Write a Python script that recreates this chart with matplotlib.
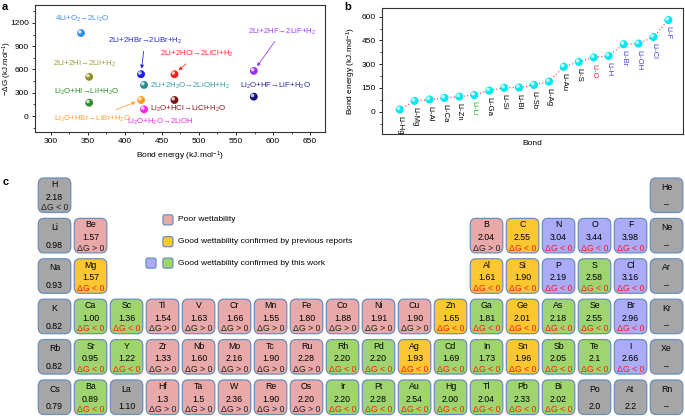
import matplotlib
matplotlib.use("Agg")
import matplotlib.pyplot as plt
from matplotlib.patches import FancyBboxPatch
from matplotlib import transforms
from matplotlib.ticker import MultipleLocator

plt.rcParams['font.family'] = ['Liberation Sans', 'DejaVu Sans']
plt.rcParams['mathtext.fontset'] = 'custom'
plt.rcParams['mathtext.rm'] = 'Liberation Sans'
plt.rcParams['mathtext.it'] = 'Liberation Sans:italic'
plt.rcParams['mathtext.bf'] = 'Liberation Sans:bold'
plt.rcParams['mathtext.default'] = 'regular'

# ---------------- Panel a data ----------------
rx_labels = ['4Li+O$_2$→2Li$_2$O', '2Li+2HI→2LiI+H$_2$', 'Li$_2$O+HI→LiI+H$_2$O',
             '2Li+2HBr→2LiBr+H$_2$', '2Li+2H$_2$O→2LiOH+H$_2$', 'Li$_2$O+HBr→LiBr+H$_2$O',
             'Li$_2$O+H$_2$O→2LiOH', '2Li+2HCl→2LiCl+H$_2$', 'Li$_2$O+HCl→LiCl+H$_2$O',
             '2Li+2HF→2LiF+H$_2$', 'Li$_2$O+HF→LiF+H$_2$O']
rx_bond = [341, 352, 352, 422, 426, 422, 426, 467, 467, 574, 574]
rx_dG = [1069, 505, 172, 539, 401, 207, 87, 539, 207, 582, 250]
rx_colors = ['#2b8ff5', '#8f8f1f', '#2e8b2e', '#1c1cf0', '#2a8a8a', '#ff9a1f',
             '#ff20f0', '#ff1a1a', '#7a1515', '#9b30f0', '#15157a']
rx_label_colors = ['#3a90f0', '#9a9a3a', '#2a8a2a', '#2a2adf', '#2f9d9d', '#ffa030',
                   '#f030e0', '#ff2a2a', '#8a1a1a', '#a040f0', '#2a2a9a']
rx_text_x = [342, 346, 349, 427, 488, 357, 448, 497, 486, 612, 603]
rx_text_y = [1250, 668, 306, 970, 388, -30, -73, 798, 90, 1090, 388]
rx_arrow = [False, False, False, True, False, True, False, True, False, True, False]

# ---------------- Panel b data ----------------
bonds = ['Li-Hg', 'Li-Mg', 'Li-Al', 'Li-Ca', 'Li-Zn', 'Li-Li', 'Li-Ga', 'Li-Si', 'Li-Bi',
         'Li-Sb', 'Li-Ag', 'Li-Au', 'Li-S', 'Li-O', 'Li-H', 'Li-Br', 'Li-OH', 'Li-Cl', 'Li-F']
bond_energy = [14, 68, 77, 87, 95, 105, 133, 151, 153, 169, 190, 284, 314, 343, 352,
               426, 430, 472, 579]
bond_label_colors = ['k'] * 5 + ['#22bb22'] + ['k'] * 7 + ['#ee3333'] + ['#4444dd'] * 5

# ---------------- Panel c data ----------------
symbols = ['H', 'He',
           'Li', 'Be', 'B', 'C', 'N', 'O', 'F', 'Ne',
           'Na', 'Mg', 'Al', 'Si', 'P', 'S', 'Cl', 'Ar',
           'K', 'Ca', 'Sc', 'Ti', 'V', 'Cr', 'Mn', 'Fe', 'Co', 'Ni', 'Cu', 'Zn', 'Ga', 'Ge',
           'As', 'Se', 'Br', 'Kr',
           'Rb', 'Sr', 'Y', 'Zr', 'Nb', 'Mo', 'Tc', 'Ru', 'Rh', 'Pd', 'Ag', 'Cd', 'In', 'Sn',
           'Sb', 'Te', 'I', 'Xe',
           'Cs', 'Ba', 'La', 'Hf', 'Ta', 'W', 'Re', 'Os', 'Ir', 'Pt', 'Au', 'Hg', 'Tl', 'Pb',
           'Bi', 'Po', 'At', 'Rn']
groups = [1, 18,
          1, 2, 13, 14, 15, 16, 17, 18,
          1, 2, 13, 14, 15, 16, 17, 18] + list(range(1, 19)) * 3
periods = [1, 1] + [2] * 8 + [3] * 8 + [4] * 18 + [5] * 18 + [6] * 18
values = ['2.18', '–',
          '0.98', '1.57', '2.04', '2.55', '3.04', '3.44', '3.98', '–',
          '0.93', '1.57', '1.61', '1.90', '2.19', '2.58', '3.16', '–',
          '0.82', '1.00', '1.36', '1.54', '1.63', '1.66', '1.55', '1.80', '1.88', '1.91',
          '1.90', '1.65', '1.81', '2.01', '2.18', '2.55', '2.96', '–',
          '0.82', '0.95', '1.22', '1.33', '1.60', '2.16', '1.90', '2.28', '2.20', '2.20',
          '1.93', '1.69', '1.73', '1.96', '2.05', '2.1', '2.66', '–',
          '0.79', '0.89', '1.10', '1.3', '1.5', '2.36', '1.90', '2.20', '2.20', '2.28',
          '2.54', '2.00', '2.04', '2.33', '2.02', '2.0', '2.2', '–']
# categories: n = none(gray), p = poor, y = previous, b = this work (blue), g = this work (green)
cats = ['n', 'n',
        'n', 'p', 'p', 'y', 'b', 'b', 'b', 'n',
        'n', 'y', 'y', 'y', 'b', 'g', 'b', 'n',
        'n', 'g', 'g', 'p', 'p', 'p', 'p', 'p', 'p', 'p', 'p', 'y', 'g', 'y', 'g', 'g', 'b', 'n',
        'n', 'g', 'g', 'p', 'p', 'p', 'p', 'p', 'g', 'g', 'y', 'g', 'g', 'y', 'g', 'g', 'b', 'n',
        'n', 'g', 'n', 'p', 'p', 'p', 'p', 'p', 'g', 'g', 'g', 'g', 'g', 'g', 'g', 'n', 'n', 'n']
dG = []
for s, c in zip(symbols, cats):
    if s == 'H':
        dG.append('lt_black')
    elif c == 'p':
        dG.append('gt')
    elif c in ('y', 'b', 'g'):
        dG.append('lt')
    else:
        dG.append('')

cat_colors = {'n': '#a6a6a6', 'p': '#e9a9a9', 'y': '#fdc82f', 'b': '#ababf7', 'g': '#9fd46e'}
legend_texts = ['Poor wettability', 'Good wettability confirmed by previous reports',
                'Good wettability confirmed by this work']

# ---------------- figure ----------------
fig = plt.figure(figsize=(6.85, 4.16), dpi=100)
W, H = 685.0, 416.0


def sphere(ax, x, y, color, s):
    ax.scatter(x, y, s=s, color=color, edgecolors='none', zorder=3)
    off = transforms.offset_copy(ax.transData, fig=fig, x=-0.9, y=0.9, units='points')
    ax.scatter(x, y, s=s * 0.22, color='white', alpha=0.75, edgecolors='none',
               zorder=4, transform=off)


# Panel a
axa = fig.add_axes([35 / W, 1 - 132 / H, 290 / W, 127 / H])
axa.set_xlim(279, 670)
axa.set_ylim(-205, 1430)
for i in range(len(rx_labels)):
    sphere(axa, rx_bond[i], rx_dG[i], rx_colors[i], 32)
    if rx_arrow[i]:
        axa.annotate(rx_labels[i], xy=(rx_bond[i], rx_dG[i]),
                     xytext=(rx_text_x[i], rx_text_y[i]),
                     ha='center', va='center', fontsize=5.7, color=rx_label_colors[i],
                     arrowprops=dict(arrowstyle='-|>', color=rx_label_colors[i], lw=0.6,
                                     mutation_scale=5, shrinkA=2, shrinkB=4), zorder=2)
    else:
        axa.text(rx_text_x[i], rx_text_y[i], rx_labels[i], ha='center', va='center',
                 fontsize=5.7, color=rx_label_colors[i])
axa.xaxis.set_major_locator(MultipleLocator(50))
axa.yaxis.set_major_locator(MultipleLocator(300))
axa.xaxis.set_minor_locator(MultipleLocator(25))
axa.yaxis.set_minor_locator(MultipleLocator(150))
axa.tick_params(which='major', direction='out', length=2.5, width=0.6, labelsize=6, pad=2)
axa.tick_params(which='minor', direction='out', length=1.5, width=0.5)
for sp in axa.spines.values():
    sp.set_linewidth(0.8)
    sp.set_color('#333333')
axa.set_xlabel('Bond energy (kJ.mol$^{-1}$)', fontsize=6, labelpad=3)
axa.set_ylabel('−ΔG (kJ.mol$^{-1}$)', fontsize=5.8)
axa.yaxis.set_label_coords(-0.074, 0.5)

# Panel b
axb = fig.add_axes([381.7 / W, 1 - 134.3 / H, 301.6 / W, 126 / H])
xs = list(range(len(bonds)))
axb.set_xlim(-1.2, 19.0)
axb.set_ylim(-143, 653)
axb.plot(xs, bond_energy, color='red', lw=0.8, linestyle=(0, (0.8, 2.2)), zorder=1)
sphere(axb, xs, bond_energy, '#00e8f0', 34)
for i, b in enumerate(bonds):
    axb.annotate(b, xy=(xs[i], bond_energy[i]), xytext=(0, -4.5),
                 textcoords='offset points', rotation=-90, ha='center', va='top',
                 fontsize=5.6, color=bond_label_colors[i])
axb.set_xticks([])
axb.yaxis.set_major_locator(MultipleLocator(150))
axb.yaxis.set_minor_locator(MultipleLocator(75))
axb.tick_params(which='major', direction='out', length=2.5, width=0.6, labelsize=6, pad=2)
axb.tick_params(which='minor', direction='out', length=1.5, width=0.5)
for sp in axb.spines.values():
    sp.set_linewidth(0.8)
    sp.set_color('#333333')
axb.set_xlabel('Bond', fontsize=6, labelpad=4)
axb.set_ylabel('Bond energy (kJ.mol$^{-1}$)', fontsize=6, labelpad=2)

# Panel c
axc = fig.add_axes([0, 0, 1, (H - 170) / H])
axc.set_xlim(-0.515, 18.5125)
axc.set_ylim(6.4653, 0.375)
axc.axis('off')
cw, ch = 32.5 / 36.0, 34.5 / 40.4
for i, s in enumerate(symbols):
    g, p = groups[i], periods[i]
    box = FancyBboxPatch((g - cw / 2, p - ch / 2), cw, ch,
                         boxstyle='round,pad=0,rounding_size=0.15',
                         facecolor=cat_colors[cats[i]], edgecolor='#6b8fbf', lw=0.9)
    axc.add_patch(box)
    if dG[i]:
        axc.text(g, p - 0.265, s, ha='center', va='center', fontsize=6.3)
        axc.text(g, p + 0.045, values[i], ha='center', va='center', fontsize=6.3)
        if dG[i] == 'gt':
            axc.text(g, p + 0.31, 'ΔG > 0', ha='center', va='center', fontsize=6.3, color='#222222')
        elif dG[i] == 'lt':
            axc.text(g, p + 0.31, 'ΔG < 0', ha='center', va='center', fontsize=6.3, color='#ff1a1a')
        else:
            axc.text(g, p + 0.31, 'ΔG < 0', ha='center', va='center', fontsize=6.3, color='#222222')
    else:
        axc.text(g, p - 0.2, s, ha='center', va='center', fontsize=6.3)
        axc.text(g, p + 0.24, values[i], ha='center', va='center', fontsize=6.3)

# legend of panel c
leg_y = [1.61, 2.15, 2.68]
leg_cols = [['p'], ['y'], ['b', 'g']]
sq_w, sq_h = 10 / 36.0, 10 / 40.4
for j, t in enumerate(legend_texts):
    cols = leg_cols[j]
    for k, c in enumerate(reversed(cols)):
        cx = 4.15 - k * 0.47
        axc.add_patch(FancyBboxPatch((cx - sq_w / 2, leg_y[j] - sq_h / 2), sq_w, sq_h,
                                     boxstyle='round,pad=0,rounding_size=0.05',
                                     facecolor=cat_colors[c], edgecolor='#6b8fbf', lw=0.9))
    axc.text(4.44, leg_y[j], t, ha='left', va='center', fontsize=6)

# panel letters
fig.text(2 / W, 1 - 7 / H, 'a', fontsize=8, fontweight='bold', va='center', ha='left')
fig.text(344 / W, 1 - 7 / H, 'b', fontsize=8, fontweight='bold', va='center', ha='left')
fig.text(3 / W, 1 - 182 / H, 'c', fontsize=8, fontweight='bold', va='center', ha='left')

fig.savefig('out.png', dpi=100)
